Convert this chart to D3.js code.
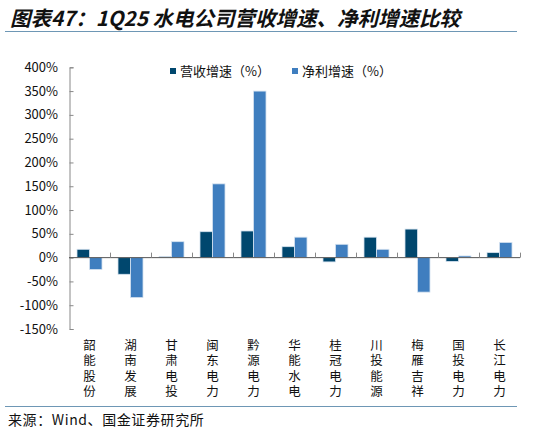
<!DOCTYPE html>
<html>
<head>
<meta charset="utf-8">
<script src="https://cdn.jsdelivr.net/npm/d3@7"></script>
<style>
  body { margin: 0; background: #fff; }
  svg { display: block; }
  text { font-family: "Noto Sans CJK SC", sans-serif; }
</style>
</head>
<body>
<svg id="chart" width="542" height="435"></svg>
<script>
const companies = ["韶能股份", "湖南发展", "甘肃电投", "闽东电力", "黔源电力", "华能水电", "桂冠电力", "川投能源", "梅雁吉祥", "国投电力", "长江电力"];
const revenueGrowth = [17.5, -35, 2, 54.5, 56, 23, -9, 43, 60, -8, 10.5];
const profitGrowth = [-25, -84, 33.5, 155, 350, 43, 28, 17.5, -72.5, 3.5, 32];
const seriesNames = ["营收增速（%）", "净利增速（%）"];
const yTicks = [-150, -100, -50, 0, 50, 100, 150, 200, 250, 300, 350, 400];

const colors = ["#00476E", "#3F7EBF"];

const svg = d3.select("#chart");

// title + rules
svg.append("text")
    .attr("x", 10).attr("y", 26)
    .attr("font-size", 20.5).attr("font-weight", "bold").attr("font-style", "italic")
    .attr("fill", "#111")
    .text("图表47：1Q25 水电公司营收增速、净利增速比较");

svg.append("line").attr("x1", 5).attr("x2", 517).attr("y1", 31.5).attr("y2", 31.5)
    .attr("stroke", "#6E97B5").attr("stroke-width", 1);
svg.append("line").attr("x1", 5).attr("x2", 517).attr("y1", 406.5).attr("y2", 406.5)
    .attr("stroke", "#6E97B5").attr("stroke-width", 1);

svg.append("text")
    .attr("x", 8).attr("y", 425)
    .attr("font-size", 14).attr("letter-spacing", 0.6).attr("fill", "#111")
    .text("来源：Wind、国金证券研究所");

// scales
const x = d3.scaleBand().domain(companies).range([69, 520]);
const x1 = d3.scaleBand().domain([0, 1])
    .range([x.bandwidth() * 0.195, x.bandwidth() * 0.805]);
const y = d3.scaleLinear().domain([-150, 400]).range([329, 67.3]);

// y axis
const yAxis = svg.append("g")
    .attr("transform", "translate(69.5,0)")
    .call(d3.axisRight(y).tickValues(yTicks).tickSize(4).tickFormat(""));
yAxis.select(".domain").attr("stroke", "#888");
yAxis.selectAll(".tick line").attr("stroke", "#888");

svg.append("g").selectAll("text")
    .data(yTicks)
    .enter().append("text")
    .attr("x", 58).attr("y", d => y(d))
    .attr("dy", "0.35em")
    .attr("text-anchor", "end")
    .attr("font-family", "Liberation Sans, Arial, sans-serif")
    .attr("font-size", 13).attr("fill", "#111")
    .text(d => d + "%");

// bars
const groups = svg.append("g").selectAll("g")
    .data(companies)
    .enter().append("g")
    .attr("transform", d => `translate(${x(d)},0)`);

groups.selectAll("rect")
    .data((d, i) => [revenueGrowth[i], profitGrowth[i]])
    .enter().append("rect")
    .attr("x", (d, j) => x1(j))
    .attr("width", x1.bandwidth())
    .attr("y", d => y(Math.max(0, d)))
    .attr("height", d => Math.abs(y(d) - y(0)))
    .attr("fill", (d, j) => colors[j])
    .attr("stroke", "#D6E3F0").attr("stroke-width", 0.8);

// zero line with category ticks pointing up
const xAxis = svg.append("g")
    .attr("transform", `translate(0,${y(0)})`);
xAxis.append("line").attr("x1", 69).attr("x2", 520).attr("y1", 0).attr("y2", 0)
    .attr("stroke", "#555").attr("stroke-width", 1);
xAxis.selectAll(".ctick")
    .data(companies)
    .enter().append("line")
    .attr("x1", d => x(d) + x.bandwidth() + 0.5)
    .attr("x2", d => x(d) + x.bandwidth() + 0.5)
    .attr("y1", 0).attr("y2", -5)
    .attr("stroke", "#888");

// category labels, stacked one character per line
svg.append("g").selectAll("text")
    .data(companies)
    .enter().append("text")
    .attr("x", d => x(d) + x.bandwidth() / 2)
    .attr("y", 350)
    .attr("text-anchor", "middle")
    .attr("font-size", 12.5).attr("fill", "#111")
    .each(function(d) {
        const t = d3.select(this);
        d.split("").forEach((ch, k) => {
            t.append("tspan")
                .attr("x", x(d) + x.bandwidth() / 2)
                .attr("dy", k === 0 ? 0 : 15.3)
                .text(ch);
        });
    });

// legend
const legendX = [170, 292];
const legend = svg.append("g").selectAll("g")
    .data(seriesNames)
    .enter().append("g")
    .attr("transform", (d, i) => `translate(${legendX[i]},68)`);
legend.append("rect")
    .attr("width", 6).attr("height", 6)
    .attr("fill", (d, i) => colors[i]);
legend.append("text")
    .attr("x", 10).attr("y", 3).attr("dy", "0.35em")
    .attr("font-size", 13).attr("fill", "#111")
    .text(d => d);
</script>
</body>
</html>
